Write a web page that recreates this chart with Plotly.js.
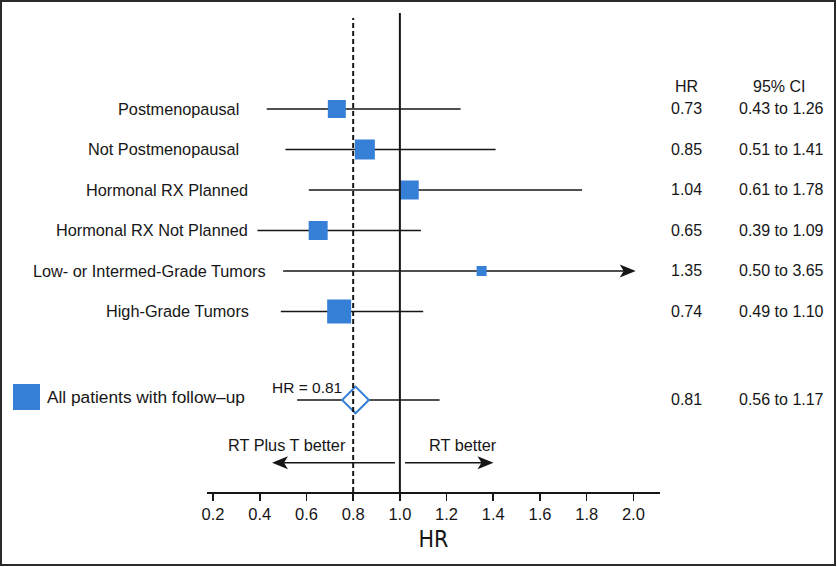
<!DOCTYPE html>
<html>
<head>
<meta charset="utf-8">
<script src="https://cdn.plot.ly/plotly-3.0.1.min.js"></script>
<style>
  html, body { margin: 0; padding: 0; background: #fff; }
  #wrap { position: relative; width: 837px; height: 567px; }
  #chart { width: 837px; height: 567px; }
  #frame { position: absolute; left: 0; top: 0; width: 836px; height: 566px; box-sizing: border-box; border: 2px solid #2a2a2a; pointer-events: none; }
</style>
</head>
<body>
<div id="wrap"><div id="chart"></div><div id="frame"></div></div>
<script>
// ---- data ----
const groups = ['Postmenopausal', 'Not Postmenopausal', 'Hormonal RX Planned', 'Hormonal RX Not Planned', 'Low- or Intermed-Grade Tumors', 'High-Grade Tumors'];
const hrValues = [0.73, 0.85, 1.04, 0.65, 1.35, 0.74];
const ciLow = [0.43, 0.51, 0.61, 0.39, 0.50, 0.49];
const ciHigh = [1.26, 1.41, 1.78, 1.09, 3.65, 1.10];
const overallLabel = 'All patients with follow\u2013up';
const overallHR = 0.81;
const overallLow = 0.56;
const overallHigh = 1.17;
const tickVals = [0.2, 0.4, 0.6, 0.8, 1.0, 1.2, 1.4, 1.6, 1.8, 2.0];
const tickLabels = ['0.2', '0.4', '0.6', '0.8', '1.0', '1.2', '1.4', '1.6', '1.8', '2.0'];
const leftLabel = 'RT Plus T better';
const rightLabel = 'RT better';

// ---- layout / style constants ----
const W = 837, H = 567;
const M = {l: 207, r: 177, t: 13, b: 75};
const XR = [0.174, 2.114];
const YR = [9.457, -2.370];
const blue = '#357fd6';
const ink = '#161616';
const FONT = '"Liberation Sans", Arial, Helvetica, sans-serif';
const markerSizes = [18, 20, 19, 19, 10, 24];
const labelRightPx = [241, 241, 250, 250, 268, 251];
const arrowTip = 2.01;
const overallRow = groups.length + 1.185;
const plotW = W - M.l - M.r, plotH = H - M.t - M.b;
const pxX = px => (px - M.l) / plotW;           // paper x
const pxY = py => (H - M.b - py) / plotH;       // paper y
const fLab = {family: FONT, size: 16.3, color: ink};
const fCol = {family: FONT, size: 16, color: ink};
const dartRight = 'M0,0 L-16,-6.5 L-12,0 L-16,6.5 Z';
const dartLeft = 'M0,0 L16,-6.5 L12,0 L16,6.5 Z';

const rows = groups.map((g, i) => i);

// CI lines
const cx = [], cy = [];
rows.forEach((r, i) => {
  cx.push(ciLow[i], ciHigh[i] > XR[1] ? arrowTip - 0.02 : ciHigh[i], null);
  cy.push(r, r, null);
});
cx.push(overallLow, overallHigh, null);
cy.push(overallRow, overallRow, null);

const traces = [
  {x: cx, y: cy, mode: 'lines', line: {color: ink, width: 1.6}, hoverinfo: 'skip', showlegend: false},
  {x: hrValues, y: rows, mode: 'markers', showlegend: false, hoverinfo: 'skip',
   marker: {symbol: 'square', size: markerSizes, color: blue, opacity: 1, line: {width: 0}}},
  {x: [overallHR], y: [overallRow], mode: 'markers', showlegend: false, hoverinfo: 'skip', cliponaxis: false,
   marker: {symbol: 'diamond', size: 20.5, color: '#ffffff', opacity: 1, line: {color: blue, width: 2}}}
];

const shapes = [
  {type: 'line', xref: 'x', yref: 'paper', x0: 1.0, x1: 1.0, y0: 0, y1: 1, line: {color: ink, width: 2}},
  {type: 'line', xref: 'x', yref: 'paper', x0: 0.8, x1: 0.8, y0: 0, y1: pxY(18), line: {color: ink, width: 2, dash: '5px,3px'}},
  {type: 'rect', xref: 'paper', yref: 'paper', x0: pxX(13), x1: pxX(40), y0: pxY(410), y1: pxY(384), fillcolor: blue, line: {width: 0}},
  // direction arrows
  {type: 'line', xref: 'paper', yref: 'paper', x0: pxX(276), x1: pxX(395), y0: pxY(462.7), y1: pxY(462.7), line: {color: ink, width: 1.6}},
  {type: 'line', xref: 'paper', yref: 'paper', x0: pxX(405), x1: pxX(489), y0: pxY(462.7), y1: pxY(462.7), line: {color: ink, width: 1.6}},
  {type: 'path', xref: 'paper', yref: 'paper', xsizemode: 'pixel', ysizemode: 'pixel', xanchor: pxX(272), yanchor: pxY(462.7), path: dartLeft, fillcolor: ink, line: {width: 0}},
  {type: 'path', xref: 'paper', yref: 'paper', xsizemode: 'pixel', ysizemode: 'pixel', xanchor: pxX(493.5), yanchor: pxY(462.7), path: dartRight, fillcolor: ink, line: {width: 0}}
];

const annotations = [];
groups.forEach((g, i) => {
  annotations.push({xref: 'paper', yref: 'y', x: pxX(labelRightPx[i]), y: rows[i], text: g,
    xanchor: 'right', yanchor: 'middle', showarrow: false, font: fLab});
  annotations.push({xref: 'paper', yref: 'y', x: pxX(686.7), y: rows[i], text: hrValues[i].toFixed(2),
    xanchor: 'center', yanchor: 'middle', showarrow: false, font: fCol});
  annotations.push({xref: 'paper', yref: 'y', x: pxX(781), y: rows[i], text: ciLow[i].toFixed(2) + ' to ' + ciHigh[i].toFixed(2),
    xanchor: 'center', yanchor: 'middle', showarrow: false, font: fCol});
  if (ciHigh[i] > XR[1]) {
    shapes.push({type: 'path', xref: 'x', yref: 'y', xsizemode: 'pixel', ysizemode: 'pixel', xanchor: arrowTip, yanchor: rows[i],
      path: dartRight, fillcolor: ink, line: {width: 0}});
  }
});
// headers
annotations.push({xref: 'paper', yref: 'paper', x: pxX(686.7), y: pxY(86), text: 'HR', xanchor: 'center', yanchor: 'middle', showarrow: false, font: fCol});
annotations.push({xref: 'paper', yref: 'paper', x: pxX(779), y: pxY(86), text: '95% CI', xanchor: 'center', yanchor: 'middle', showarrow: false, font: fCol});
// overall row
annotations.push({xref: 'paper', yref: 'y', x: pxX(686.7), y: overallRow, text: overallHR.toFixed(2), xanchor: 'center', yanchor: 'middle', showarrow: false, font: fCol});
annotations.push({xref: 'paper', yref: 'y', x: pxX(781), y: overallRow, text: overallLow.toFixed(2) + ' to ' + overallHigh.toFixed(2), xanchor: 'center', yanchor: 'middle', showarrow: false, font: fCol});
annotations.push({xref: 'paper', yref: 'paper', x: pxX(344), y: pxY(387), text: 'HR = ' + overallHR.toFixed(2), xanchor: 'right', yanchor: 'middle', showarrow: false, font: {family: FONT, size: 15.5, color: ink}});
annotations.push({xref: 'paper', yref: 'paper', x: pxX(45), y: pxY(397), text: overallLabel, xanchor: 'left', yanchor: 'middle', showarrow: false, font: {family: FONT, size: 17.3, color: ink}});
// direction labels
annotations.push({xref: 'paper', yref: 'paper', x: pxX(287), y: pxY(445), text: leftLabel, xanchor: 'center', yanchor: 'middle', showarrow: false, font: fLab});
annotations.push({xref: 'paper', yref: 'paper', x: pxX(463), y: pxY(445), text: rightLabel, xanchor: 'center', yanchor: 'middle', showarrow: false, font: fLab});

const layout = {
  width: W, height: H,
  margin: M,
  paper_bgcolor: '#ffffff', plot_bgcolor: '#ffffff',
  showlegend: false,
  font: {family: FONT, size: 15, color: ink},
  xaxis: {
    range: XR, tickvals: tickVals, ticktext: tickLabels,
    showline: true, linecolor: ink, linewidth: 1.6, mirror: false,
    ticks: 'outside', ticklen: 7, tickwidth: 1.6, tickcolor: ink,
    showgrid: false, zeroline: false, fixedrange: true,
    tickfont: {family: FONT, size: 16.5, color: ink},
    title: {text: 'HR', font: {family: '"Liberation Sans Narrow", "DejaVu Sans Condensed", Arial, sans-serif', size: 23, color: ink}, standoff: 8}
  },
  yaxis: {range: YR, visible: false, showgrid: false, zeroline: false, fixedrange: true},
  shapes: shapes,
  annotations: annotations
};

Plotly.newPlot('chart', traces, layout, {staticPlot: true, displayModeBar: false});
</script>
</body>
</html>
